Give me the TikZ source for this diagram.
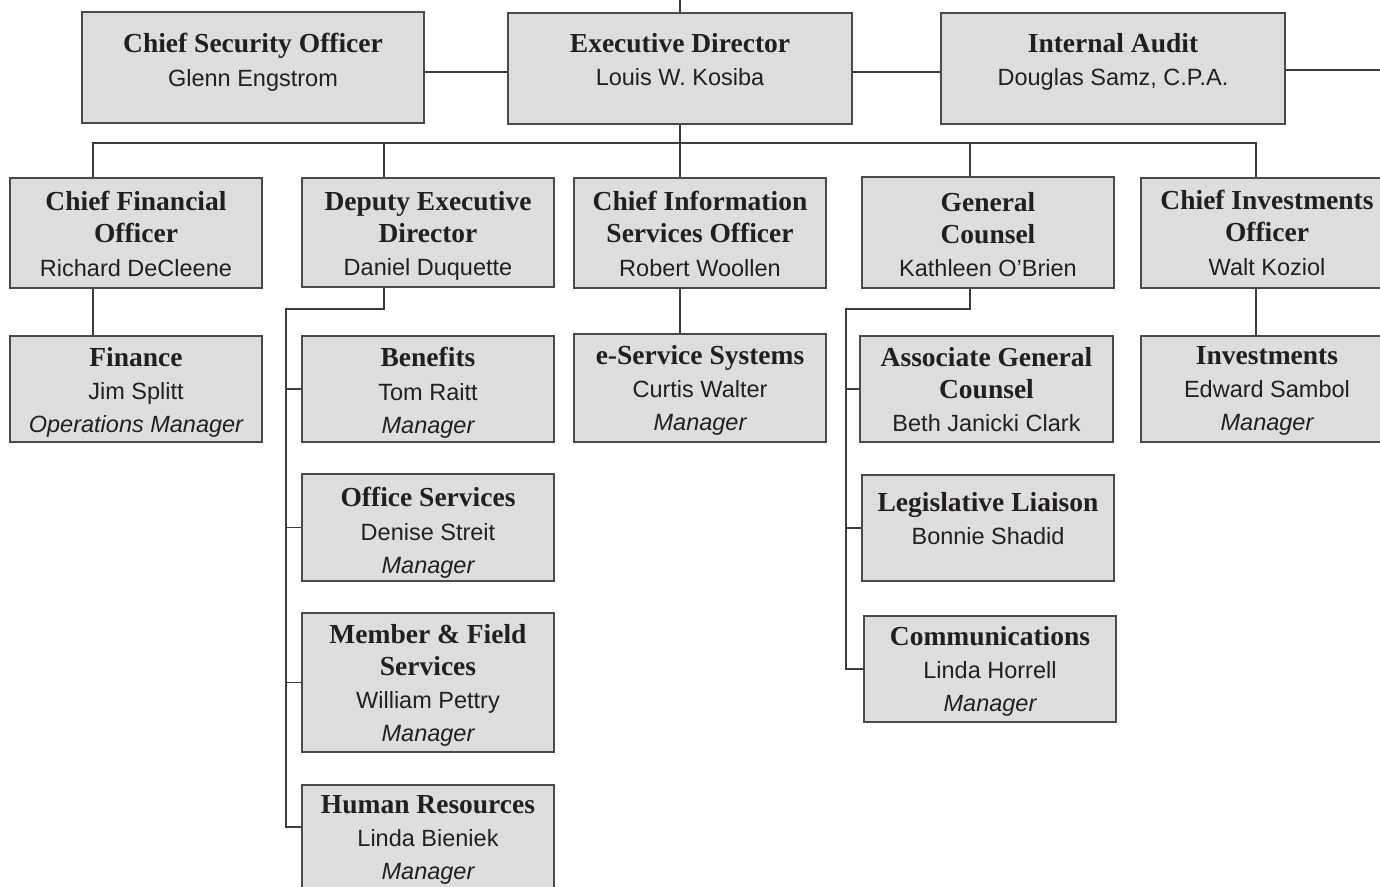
\documentclass[tikz,border=0pt]{standalone}
\usepackage{fontspec}
\setmainfont{Liberation Sans}
\newfontfamily\ttlfont{Liberation Serif}
\usetikzlibrary{calc}
\definecolor{boxfill}{HTML}{DCDDDF}
\definecolor{boxline}{HTML}{4A4A4A}
\definecolor{conline}{HTML}{3C3C3C}
\definecolor{ink}{HTML}{231F20}
\newcommand{\ttl}[1]{{\fontsize{27.5}{32}\selectfont\ttlfont\bfseries #1}}
\newcommand{\nme}[1]{{\fontsize{23.5}{32}\selectfont #1}}
\newcommand{\rle}[1]{{\fontsize{23.5}{32}\selectfont\itshape #1}}
\newcommand{\obox}[7]{%
  \node[orgbox, minimum width={#4-#2}, minimum height={#5-#3}] (#1) at ({(#2+#4)/2},{(#3+#5)/2}) {};
  \node[txt] (#1t) at ({(#2+#4)/2},#6) {#7};
}
\tikzset{
  orgbox/.style={draw=boxline, fill=boxfill, line width=1.5pt, inner sep=0pt, rectangle},
  txt/.style={anchor=north, inner sep=0pt, align=center, text=ink, font={\fontsize{23.5}{32}\selectfont}},
  con/.style={draw=conline, line width=1.4pt}
}
\begin{document}
\begin{tikzpicture}[x=1pt,y=-1pt]
\useasboundingbox (0,0) rectangle (1380,886);
\clip (0,0) rectangle (1380,886);
\fill[white] (0,0) rectangle (1380,886);
% top row
\obox{cso}{82}{12}{424}{123}{33}{\ttl{Chief Security Officer}\\[1.5pt]\nme{Glenn Engstrom}}
\obox{ed}{508}{13}{852}{124}{33}{\ttl{Executive Director}\\[1.5pt]\nme{Louis W. Kosiba}}
\obox{ia}{941}{13}{1285}{124}{33}{\ttl{Internal Audit}\\[1.5pt]\nme{Douglas Samz, C.P.A.}}
% second row
\obox{cfo}{10}{178}{262}{288}{191}{\ttl{Chief Financial}\\\ttl{Officer}\\[1.5pt]\nme{Richard DeCleene}}
\obox{ded}{302}{178}{554}{287}{191}{\ttl{Deputy Executive}\\\ttl{Director}\\[1.5pt]\nme{Daniel Duquette}}
\obox{ciso}{574}{178}{826}{288}{191}{\ttl{Chief Information}\\\ttl{Services Officer}\\[1.5pt]\nme{Robert Woollen}}
\obox{gc}{862}{177}{1114}{288}{192}{\ttl{General}\\\ttl{Counsel}\\[1.5pt]\nme{Kathleen O’Brien}}
\obox{cio}{1141}{178}{1393}{288}{190}{\ttl{Chief Investments}\\\ttl{Officer}\\[1.5pt]\nme{Walt Koziol}}
% third row
\obox{fin}{10}{336}{262}{442}{347}{\ttl{Finance}\\[1.5pt]\nme{Jim Splitt}\\[1pt]\rle{Operations Manager}}
\obox{ben}{302}{336}{554}{442}{347}{\ttl{Benefits}\\[1.5pt]\nme{Tom Raitt}\\[1pt]\rle{Manager}}
\obox{esv}{574}{334}{826}{442}{345}{\ttl{e-Service Systems}\\[1.5pt]\nme{Curtis Walter}\\[1pt]\rle{Manager}}
\obox{agc}{860}{336}{1113}{442}{347}{\ttl{Associate General}\\\ttl{Counsel}\\[1.5pt]\nme{Beth Janicki Clark}}
\obox{inv}{1141}{336}{1393}{442}{346}{\ttl{Investments}\\[1.5pt]\nme{Edward Sambol}\\[1pt]\rle{Manager}}
% lower boxes
\obox{off}{302}{474}{554}{581}{487}{\ttl{Office Services}\\[1.5pt]\nme{Denise Streit}\\[1pt]\rle{Manager}}
\obox{mem}{302}{613}{554}{752}{624}{\ttl{Member \& Field}\\\ttl{Services}\\[1.5pt]\nme{William Pettry}\\[1pt]\rle{Manager}}
\obox{hr}{302}{785}{554}{920}{795}{\ttl{Human Resources}\\[1.5pt]\nme{Linda Bieniek}\\[1pt]\rle{Manager}}
\obox{leg}{862}{475}{1114}{581}{492}{\ttl{Legislative Liaison}\\[1.5pt]\nme{Bonnie Shadid}}
\obox{com}{864}{616}{1116}{722}{626}{\ttl{Communications}\\[1.5pt]\nme{Linda Horrell}\\[1pt]\rle{Manager}}
% helper coordinates
\coordinate (topend) at (680,0);
\coordinate (h1) at (0,72);
\coordinate (h2) at (0,70);
\coordinate (rightend) at (1380,70);
\coordinate (d1) at (93,143);
\coordinate (d2) at (384,143);
\coordinate (d3) at (680,143);
\coordinate (d4) at (970,143);
\coordinate (d5) at (1256,143);
\coordinate (e1) at (286,309);
\coordinate (e2) at (846,309);
\coordinate (hrb) at (0,827);
% connectors
\draw[con] (topend) -- (ed.north);
\draw[con] (cso.east |- h1) -- (ed.west |- h1);
\draw[con] (ed.east |- h1) -- (ia.west |- h1);
\draw[con] (ia.east |- h2) -- (rightend);
\draw[con] (ed.south) -- (d3);
\draw[con] (d1 |- cfo.north) -- (d1) -- (d5) -- (d5 |- cio.north);
\draw[con] (d2) -- (d2 |- ded.north);
\draw[con] (d3) -- (d3 |- ciso.north);
\draw[con] (d4) -- (d4 |- gc.north);
\draw[con] (d1 |- cfo.south) -- (d1 |- fin.north);
\draw[con] (d3 |- ciso.south) -- (d3 |- esv.north);
\draw[con] (d5 |- cio.south) -- (d5 |- inv.north);
\draw[con] (d2 |- ded.south) |- (e1) -- (e1 |- hrb) -- (hr.west |- hrb);
\draw[con] (e1 |- ben.west) -- (ben.west);
\draw[con] (e1 |- off.west) -- (off.west);
\draw[con] (e1 |- mem.west) -- (mem.west);
\draw[con] (d4 |- gc.south) |- (e2) -- (e2 |- com.west) -- (com.west);
\draw[con] (e2 |- agc.west) -- (agc.west);
\draw[con] (e2 |- leg.west) -- (leg.west);
\end{tikzpicture}
\end{document}
